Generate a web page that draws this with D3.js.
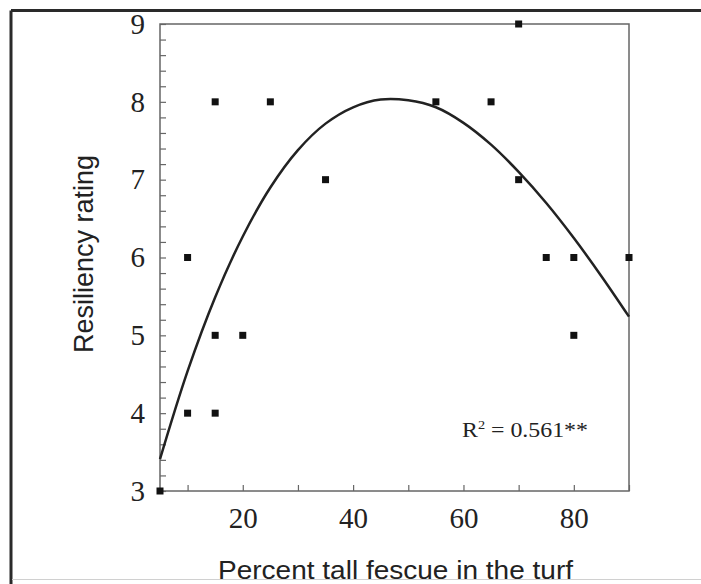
<!DOCTYPE html>
<html>
<head>
<meta charset="utf-8">
<script src="https://cdn.jsdelivr.net/npm/d3@7"></script>
<style>
  html, body { margin: 0; padding: 0; background: #fff; }
  svg { display: block; }
</style>
</head>
<body>
<svg id="chart" width="701" height="584"></svg>
<script>
// ---- data ----
const pctFescue = [5, 10, 10, 15, 15, 15, 20, 25, 35, 55, 65, 70, 70, 75, 80, 80, 90];
const resiliency = [3, 4, 6, 4, 5, 8, 5, 8, 7, 8, 8, 9, 7, 6, 6, 5, 6];
// regression curve
const fitX = [5, 10, 15, 20, 25, 30, 35, 40, 45, 50, 55, 60, 65, 70, 75, 80, 85, 90];
const fitY = [3.41, 4.54, 5.49, 6.27, 6.90, 7.38, 7.72, 7.93, 8.03, 8.02, 7.93, 7.73, 7.45, 7.10, 6.70, 6.25, 5.76, 5.24];
const xTickValues = [10, 20, 30, 40, 50, 60, 70, 80, 90];
const xTickLabels = [20, 40, 60, 80];
const yTickLabels = [3, 4, 5, 6, 7, 8, 9];
const xTitle = "Percent tall fescue in the turf";
const yTitle = "Resiliency rating";
const r2Value = "0.561**";

// ---- layout ----
const svg = d3.select("#chart");
const L = 160, R = 629, T = 24, B = 491;

const x = d3.scaleLinear().domain([5, 90]).range([L, R]);
const y = d3.scaleLinear().domain([3, 9]).range([B, T]);

// outer page frame
svg.append("line").attr("x1", 11).attr("y1", 10.5).attr("x2", 701).attr("y2", 10.5)
  .attr("stroke", "#2a2a2a").attr("stroke-width", 3);
svg.append("line").attr("x1", 11).attr("y1", 10.5).attr("x2", 11).attr("y2", 584)
  .attr("stroke", "#2a2a2a").attr("stroke-width", 3);
svg.append("line").attr("x1", 12).attr("y1", 579.5).attr("x2", 701).attr("y2", 579.5)
  .attr("stroke", "#d0d0d0").attr("stroke-width", 1);

// y axis
const yTicks = d3.range(30, 91, 2).map(v => v / 10);
const yAxis = d3.axisLeft(y).tickValues(yTicks).tickSize(-6).tickPadding(15)
  .tickFormat(d => {
    const r = Math.round(d * 10) / 10;
    return Number.isInteger(r) && yTickLabels.includes(r) ? d3.format("d")(r) : "";
  });
const gy = svg.append("g").attr("transform", `translate(${L},0)`).call(yAxis);
gy.select(".domain").remove();
gy.selectAll(".tick line").attr("stroke", "#666").attr("stroke-width", 1.2);
gy.selectAll(".tick text").attr("font-family", "'Liberation Serif', 'Times New Roman', serif")
  .attr("font-size", 29).attr("fill", "#222");

// x axis
const xAxis = d3.axisBottom(x).tickValues(xTickValues).tickSize(-6).tickPadding(16)
  .tickFormat(d => xTickLabels.includes(d) ? d : "");
const gx = svg.append("g").attr("transform", `translate(0,${B})`).call(xAxis);
gx.select(".domain").remove();
gx.selectAll(".tick line").attr("stroke", "#666").attr("stroke-width", 1.2);
gx.selectAll(".tick text").attr("font-family", "'Liberation Serif', 'Times New Roman', serif")
  .attr("font-size", 29).attr("fill", "#222");

// plot frame
svg.append("rect").attr("x", L).attr("y", T).attr("width", R - L).attr("height", B - T)
  .attr("fill", "none").attr("stroke", "#666").attr("stroke-width", 1.5);

// fitted curve
const fitData = fitX.map((d, i) => [d, fitY[i]]);
svg.append("path").datum(fitData)
  .attr("d", d3.line().x(d => x(d[0])).y(d => y(d[1])).curve(d3.curveCatmullRom.alpha(0.5)))
  .attr("fill", "none").attr("stroke", "#222").attr("stroke-width", 2.5);

// points
const pts = pctFescue.map((d, i) => [d, resiliency[i]]);
const s = 7;
svg.append("g").selectAll("rect").data(pts).join("rect")
  .attr("x", d => x(d[0]) - s / 2).attr("y", d => y(d[1]) - s / 2)
  .attr("width", s).attr("height", s).attr("fill", "#111");

// R^2 label
const r2 = svg.append("text").attr("x", 462).attr("y", 437)
  .attr("font-family", "'Liberation Serif', 'Times New Roman', serif")
  .attr("font-size", 20).attr("fill", "#222")
  .attr("textLength", 126).attr("lengthAdjust", "spacingAndGlyphs");
r2.append("tspan").text("R");
r2.append("tspan").attr("font-size", 12).attr("dy", -8).text("2");
r2.append("tspan").attr("dy", 8).text(" = " + r2Value);

// axis titles
svg.append("text").attr("x", (L + R) / 2 + 1).attr("y", 579)
  .attr("text-anchor", "middle")
  .attr("font-family", "'Liberation Sans', Arial, Helvetica, sans-serif")
  .attr("font-size", 26.5).attr("fill", "#222")
  .attr("textLength", 355).attr("lengthAdjust", "spacingAndGlyphs")
  .text(xTitle);

svg.append("text")
  .attr("transform", `translate(93,254) rotate(-90)`)
  .attr("text-anchor", "middle")
  .attr("font-family", "'Liberation Sans', Arial, Helvetica, sans-serif")
  .attr("font-size", 27).attr("fill", "#222")
  .text(yTitle);
</script>
</body>
</html>
